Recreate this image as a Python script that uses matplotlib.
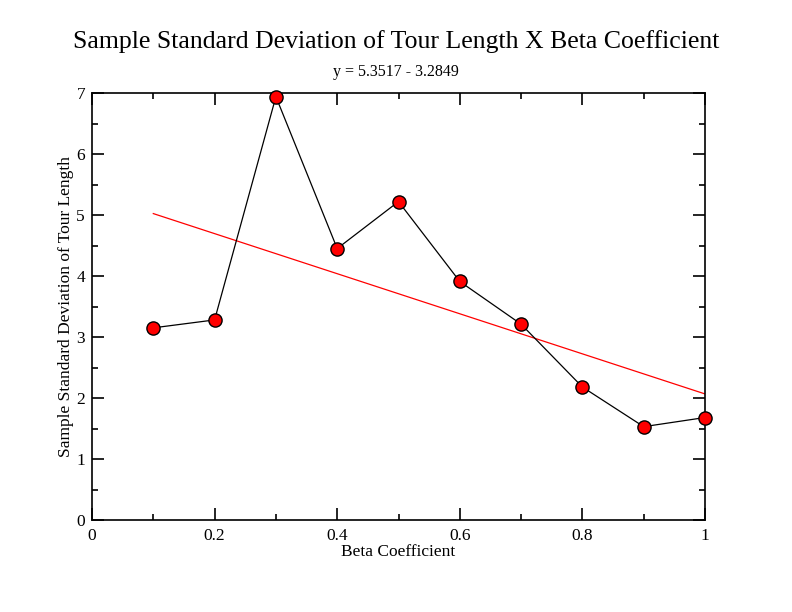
import numpy as np
import matplotlib
matplotlib.use('Agg')
import matplotlib.pyplot as plt
from matplotlib.ticker import MultipleLocator

# 数据
beta = [0.1, 0.2, 0.3, 0.4, 0.5, 0.6, 0.7, 0.8, 0.9, 1.0]
std_len = [3.15, 3.28, 6.94, 4.45, 5.22, 3.91, 3.21, 2.18, 1.53, 1.68]
fit_a = 5.3517
fit_b = -3.2849

plt.rcParams['font.family'] = ['Liberation Serif', 'DejaVu Serif']

fig = plt.figure(figsize=(7.92, 6.12), dpi=100)
ax = fig.add_axes([92 / 792, 1 - 520 / 612, (705 - 92) / 792, (520 - 93) / 612])

fit_x = np.array([beta[0], beta[-1]])
ax.plot(fit_x, fit_a + fit_b * fit_x, color='red', lw=0.9, zorder=2)
ax.plot(beta, std_len, color='black', lw=0.9, marker='o', ms=9.5,
        mfc='red', mec='black', mew=1.0, zorder=3, clip_on=False)

ax.set_xlim(0, 1)
ax.set_ylim(0, 7)
ax.xaxis.set_major_locator(MultipleLocator(0.2))
ax.xaxis.set_minor_locator(MultipleLocator(0.1))
ax.yaxis.set_major_locator(MultipleLocator(1))
ax.yaxis.set_minor_locator(MultipleLocator(0.5))
ax.xaxis.set_major_formatter(plt.FuncFormatter(lambda v, p: '%g' % round(v, 2)))
ax.tick_params(which='both', direction='in', top=True, right=True, labelsize=12.5, width=1.2)
ax.tick_params(which='major', length=8.5)
ax.tick_params(which='minor', length=4.5)
ax.tick_params(axis='x', pad=6)
ax.tick_params(axis='y', pad=5)
for s in ax.spines.values():
    s.set_linewidth(1.2)

ax.set_xlabel('Beta Coefficient', fontsize=12.5, labelpad=0)
ax.set_ylabel('Sample Standard Deviation of Tour Length', fontsize=12.5, labelpad=2)
fig.text(0.5, 1 - 42 / 612, 'Sample Standard Deviation of Tour Length X Beta Coefficient',
         ha='center', va='center', fontsize=18.5)
fig.text(0.5, 1 - 72 / 612, 'y = 5.3517 - 3.2849', ha='center', va='center', fontsize=11.5)

fig.savefig('out.png', dpi=100)
